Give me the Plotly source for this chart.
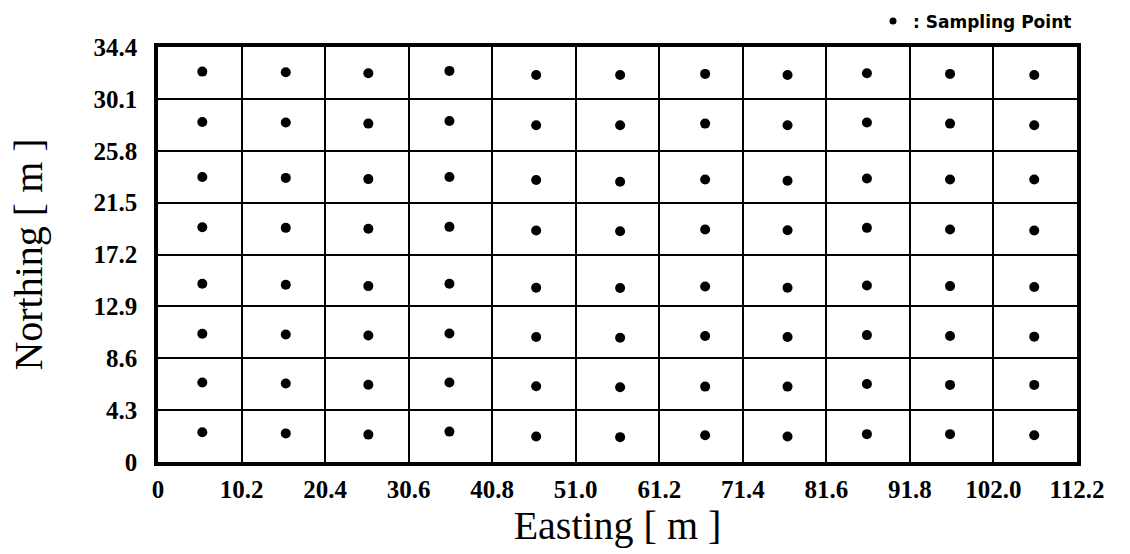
import plotly.graph_objects as go

# ---- data ----
easting_ticks = [0, 10.2, 20.4, 30.6, 40.8, 51.0, 61.2, 71.4, 81.6, 91.8, 102.0, 112.2]
easting_labels = ["0", "10.2", "20.4", "30.6", "40.8", "51.0", "61.2", "71.4", "81.6", "91.8", "102.0", "112.2"]
northing_ticks = [0, 4.3, 8.6, 12.9, 17.2, 21.5, 25.8, 30.1, 34.4]
northing_labels = ["0", "4.3", "8.6", "12.9", "17.2", "21.5", "25.8", "30.1", "34.4"]

# sampling point easting per column
col_x = [5.41, 15.60, 25.68, 35.58, 46.17, 56.42, 66.80, 76.86, 86.55, 96.70, 106.98]

# sampling point northing per row (top row first), one value per column
row1 = [32.36, 32.31, 32.23, 32.42, 32.08, 32.08, 32.17, 32.08, 32.23, 32.17, 32.08]
row2 = [28.19, 28.14, 28.05, 28.27, 27.91, 27.91, 28.05, 27.91, 28.14, 28.05, 27.91]
row3 = [23.63, 23.55, 23.45, 23.63, 23.37, 23.23, 23.42, 23.31, 23.50, 23.42, 23.42]
row4 = [19.46, 19.41, 19.33, 19.49, 19.19, 19.13, 19.27, 19.21, 19.41, 19.27, 19.19]
row5 = [14.77, 14.69, 14.58, 14.77, 14.44, 14.42, 14.55, 14.44, 14.63, 14.58, 14.50]
row6 = [10.63, 10.57, 10.49, 10.65, 10.36, 10.30, 10.44, 10.36, 10.52, 10.44, 10.39]
row7 = [6.59, 6.51, 6.41, 6.59, 6.28, 6.20, 6.25, 6.25, 6.47, 6.39, 6.39]
row8 = [2.46, 2.37, 2.27, 2.52, 2.12, 2.06, 2.22, 2.12, 2.31, 2.31, 2.22]
rows = [row1, row2, row3, row4, row5, row6, row7, row8]

legend_label = ": Sampling Point"

xs, ys = [], []
for r in rows:
    for cx, cy in zip(col_x, r):
        xs.append(cx)
        ys.append(cy)

fig = go.Figure()
fig.add_trace(go.Scatter(
    x=xs, y=ys, mode="markers",
    marker=dict(size=10, color="black"),
    name="Sampling Point",
    showlegend=False,
    hoverinfo="x+y",
))
# legend key (smaller bullet, as in the original key)
fig.add_trace(go.Scatter(
    x=[None], y=[None], mode="markers",
    marker=dict(size=7, color="black"),
    name=legend_label, showlegend=True, hoverinfo="skip",
))

serif = "Liberation Serif, Times New Roman, serif"
fig.update_layout(
    width=1130, height=554,
    margin=dict(l=158, r=53, t=47, b=92, autoexpand=False),
    paper_bgcolor="white", plot_bgcolor="white",
    showlegend=True,
    legend=dict(
        x=1.0, xanchor="right", y=1.018, yanchor="bottom",
        yref="paper", xref="paper",
        bgcolor="rgba(0,0,0,0)", borderwidth=0,
        font=dict(family="DejaVu Sans, Arial, sans-serif", size=17, color="black", weight="bold"),
        itemsizing="trace", itemwidth=30,
        tracegroupgap=0,
    ),
    xaxis=dict(
        range=[0, 112.2], tickvals=easting_ticks, ticktext=easting_labels,
        showgrid=True, gridcolor="black", gridwidth=2,
        showline=True, linecolor="black", linewidth=3.5, mirror=True,
        zeroline=False, ticks="", ticklabelstandoff=2,
        tickfont=dict(family=serif, size=25, color="black", weight="bold"),
        title=dict(text="Easting [ m ]", font=dict(family=serif, size=40, color="black"), standoff=8),
        fixedrange=True, automargin=False,
    ),
    yaxis=dict(
        range=[0, 34.4], tickvals=northing_ticks, ticktext=northing_labels,
        showgrid=True, gridcolor="black", gridwidth=2,
        showline=True, linecolor="black", linewidth=3.5, mirror=True,
        zeroline=False, ticks="", ticklabelstandoff=12,
        tickfont=dict(family=serif, size=25, color="black", weight="bold"),
        title=dict(text="Northing [ m ]", font=dict(family=serif, size=40, color="black"), standoff=40),
        fixedrange=True, automargin=False,
    ),
)

fig.write_html("out.html")
